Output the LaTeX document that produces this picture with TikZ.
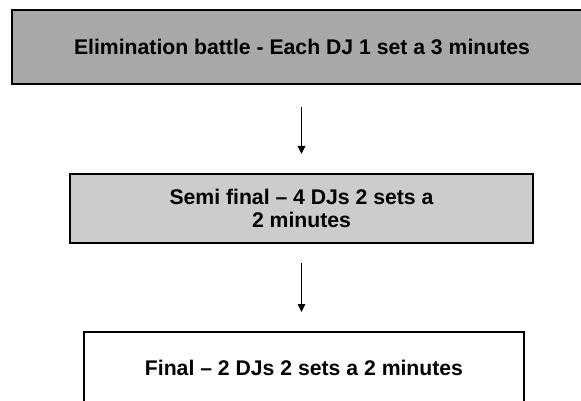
\documentclass[tikz,border=0pt]{standalone}
\usepackage{fontspec}
\setmainfont{Liberation Sans}
\usetikzlibrary{arrows.meta}
\definecolor{darkfill}{HTML}{A8A8A8}
\definecolor{lightfill}{HTML}{CCCCCC}
\begin{document}
\begin{tikzpicture}[x=1pt,y=-1pt,
  stagebox/.style={draw=black, line width=1.2pt, rectangle, inner sep=0pt, align=center,
    font=\fontsize{21.2}{23.5}\selectfont\bfseries},
  flowarrow/.style={draw=black, line width=1.2pt, -{Triangle[length=8pt,width=7.5pt]}}]
\useasboundingbox (0,0) rectangle (581,401);
\clip (0,0) rectangle (581,401);
\fill[white] (0,0) rectangle (581,401);
\node[stagebox, fill=darkfill, minimum width=580pt, minimum height=74pt] (elim) at (302,47) {Elimination battle - Each DJ 1 set a 3 minutes};
\node[stagebox, fill=lightfill, minimum width=463pt, minimum height=69pt] (semi) at (301.5,208.5) {Semi final – 4 DJs 2 sets a\\2 minutes};
\node[stagebox, fill=white, minimum width=440pt, minimum height=71pt] (final) at (304,367.5) {Final – 2 DJs 2 sets a 2 minutes};
\coordinate (a1s) at (301.5,107);
\coordinate (a1e) at (301.5,154);
\coordinate (a2s) at (301.5,263);
\coordinate (a2e) at (301.5,312);
\draw[flowarrow] (a1s) -- (a1e);
\draw[flowarrow] (a2s) -- (a2e);
\end{tikzpicture}
\end{document}
